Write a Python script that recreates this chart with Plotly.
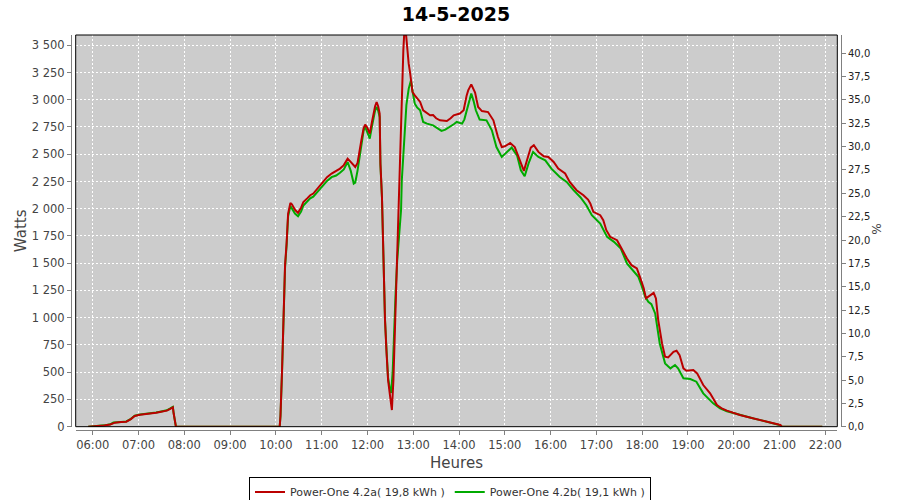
import plotly.graph_objects as go

DAY = "2025-05-14"

red_times = ["05:54","06:05","06:15","06:23","06:29","06:37","06:44","06:50","06:55","07:02","07:10","07:17","07:23","07:28","07:33","07:37","07:41","07:45","07:46","07:48","07:49",
             "10:05","10:06","10:08","10:10","10:12","10:14","10:16","10:19","10:21","10:25","10:29","10:33","10:36","10:41","10:45","10:49","10:55",
             "11:01","11:07","11:13","11:19","11:24","11:29","11:34","11:38","11:44","11:47","11:49","11:52","11:55","11:57",
             "12:00","12:03","12:06","12:08","12:10","12:12","12:14","12:16","12:17","12:19","12:20","12:21","12:23","12:25","12:27","12:30","12:32",
             "12:34","12:36","12:38","12:40","12:43","12:45","12:47","12:49","12:51","12:54","12:56","12:59",
             "13:02","13:05","13:09","13:13","13:18","13:22","13:26","13:30","13:35","13:44","13:49","13:53",
             "14:01","14:06","14:10","14:12","14:16","14:21","14:25","14:30","14:38","14:45","14:51","14:56",
             "15:00","15:07","15:13","15:20","15:25","15:29","15:34","15:38","15:44","15:51","15:57",
             "16:04","16:10","16:19","16:25","16:34","16:43","16:49","16:52","16:56",
             "17:05","17:09","17:13","17:18","17:27","17:33","17:40","17:46","17:53","17:57",
             "18:02","18:05","18:10","18:15","18:18","18:21","18:26","18:30","18:34","18:41","18:45","18:49","18:54","18:58",
             "19:07","19:12","19:20","19:29","19:38","19:45","19:51",
             "20:00","20:08","20:17","20:26","20:35","20:43","20:52","21:01","21:03","21:56"]
red_watts = [0,5,10,20,37,42,46,70,98,110,115,123,128,135,140,147,162,178,123,43,0,
             0,100,504,978,1482,1681,1956,2053,2040,1990,1962,2010,2062,2095,2124,2139,2190,
             2240,2290,2323,2345,2368,2400,2460,2430,2383,2420,2490,2628,2740,2772,
             2740,2689,2800,2873,2940,2979,2940,2873,2414,2108,1803,1345,978,676,428,260,153,
             428,887,1345,1880,2414,3025,3453,3720,3545,3331,3239,3071,
             3040,3010,2980,2903,2873,2857,2860,2830,2811,2805,2830,2857,
             2873,2903,3040,3086,3141,3065,2933,2896,2887,2811,2658,2566,
             2573,2603,2566,2444,2347,2444,2561,2582,2521,2481,2475,
             2429,2368,2323,2246,2170,2124,2084,2048,1971,
             1941,1895,1803,1742,1711,1635,1543,1482,1452,1375,
             1269,1177,1207,1228,1177,978,764,642,636,687,697,657,535,513,
             520,489,382,306,199,165,147,
             125,107,92,77,62,46,31,16,0,0]

green_times = ["05:54","06:05","06:15","06:23","06:27","06:37","06:44","06:50","06:55","07:02","07:10","07:17","07:23","07:28","07:33","07:37","07:41","07:45","07:46","07:48","07:49",
               "10:05","10:06","10:08","10:10","10:12","10:14","10:16","10:19","10:21","10:25","10:29","10:33","10:36","10:41","10:45","10:49","10:55",
               "11:01","11:07","11:13","11:19","11:24","11:29","11:34","11:38","11:42","11:44","11:47","11:49","11:52","11:55","11:57",
               "12:00","12:03","12:06","12:08","12:10","12:12","12:14","12:16","12:17","12:19","12:20","12:21","12:23","12:25","12:27","12:29","12:31",
               "12:33","12:35","12:37","12:39","12:42","12:44","12:45","12:47","12:49","12:51","12:54","12:57","12:59",
               "13:02","13:05","13:09","13:13","13:18","13:26","13:31","13:37","13:42","13:48","13:53","13:57",
               "14:01","14:04","14:07","14:10","14:13","14:16","14:19","14:22","14:27","14:36","14:43","14:49","14:56",
               "15:03","15:09","15:16","15:21","15:26","15:31","15:37","15:44","15:53",
               "16:01","16:12","16:21","16:30","16:39","16:47","16:54",
               "17:05","17:14","17:23","17:32","17:40","17:48","17:55","17:59",
               "18:04","18:08","18:12","18:17","18:20","18:23","18:30","18:37","18:43","18:47","18:54",
               "19:03","19:11","19:20","19:33","19:42","19:51",
               "20:00","20:08","20:17","20:26","20:35","20:43","20:52","21:01","21:03","21:56"]
green_watts = [0,5,12,22,38,44,48,72,100,112,117,124,130,137,142,150,165,182,125,45,0,
               0,95,490,960,1460,1660,1930,2025,2005,1955,1931,1975,2030,2065,2095,2110,2160,
               2210,2255,2290,2305,2330,2360,2429,2350,2231,2240,2350,2440,2580,2720,2750,
               2700,2643,2760,2830,2900,2934,2900,2840,2400,2100,1800,1345,978,700,450,360,309,
               500,948,1250,1528,1800,1986,2261,2500,2750,2950,3100,3178,3080,
               2964,2930,2903,2796,2781,2765,2740,2714,2725,2750,2775,2796,
               2790,2781,2820,2903,2990,3056,2990,2903,2818,2811,2720,2566,2475,
               2521,2561,2490,2353,2298,2414,2521,2475,2444,
               2368,2291,2246,2170,2105,2030,1941,
               1864,1742,1696,1635,1498,1436,1375,1299,
               1192,1146,1125,1039,917,764,581,535,566,535,444,
               437,413,306,214,169,142,
               124,106,91,75,60,44,29,14,0,0]

series_names = ["Power-One 4.2a( 19,8 kWh )", "Power-One 4.2b( 19,1 kWh )"]
series_colors = ["#bb0000", "#00aa00"]

# watts corresponding to 100 % on the right-hand axis
PEAK_W = 8565
WATTS_MAX = 3594

hour_ticks = ["%02d:00" % h for h in range(6, 23)]

def ts(t):
    return f"{DAY} {t}"

fig = go.Figure()
fig.add_trace(go.Scatter(x=[ts(t) for t in green_times], y=green_watts, mode="lines",
                         name=series_names[1], legendrank=2,
                         line=dict(color=series_colors[1], width=2)))
fig.add_trace(go.Scatter(x=[ts(t) for t in red_times], y=red_watts, mode="lines",
                         name=series_names[0], legendrank=1,
                         line=dict(color=series_colors[0], width=2)))
# same series expressed in % of peak power, on the right axis (invisible, drives the % axis)
fig.add_trace(go.Scatter(x=[ts(t) for t in red_times], y=[w / PEAK_W * 100 for w in red_watts],
                         mode="lines", yaxis="y2", showlegend=False, hoverinfo="skip",
                         opacity=0, line=dict(color=series_colors[0], width=0)))

tickfont = dict(family="DejaVu Sans", size=11.5, color="#444444")
grid = dict(showgrid=True, gridcolor="white", griddash="2px,2px", gridwidth=1)

fig.update_layout(
    width=900, height=500,
    paper_bgcolor="white", plot_bgcolor="#cccccc",
    separators=", ",
    margin=dict(l=71, r=59, t=35, b=70, autoexpand=False),
    title=dict(text="<b>14-5-2025</b>", x=0.5, xanchor="center", xref="paper",
               y=0.972, yanchor="middle", yref="container", automargin=False,
               font=dict(family="DejaVu Sans", size=19, color="black")),
    xaxis=dict(type="date", domain=[0.0061, 0.9952], anchor="free", position=0,
               automargin=False,
               range=[ts("05:37:40"), ts("22:15:40")],
               tickvals=[ts(t) for t in hour_ticks], ticktext=hour_ticks,
               showline=True, linecolor="#808080", linewidth=1,
               ticks="outside", ticklen=4, tickcolor="#808080",
               tickfont=tickfont, zeroline=False,
               title=dict(text="Heures", font=dict(family="DejaVu Sans", size=15, color="#444444"), standoff=6),
               **grid),
    yaxis=dict(domain=[0.0084, 1], anchor="free", position=0, automargin=False,
               range=[0, WATTS_MAX], tickmode="linear", tick0=0, dtick=250, tickformat=",d",
               showline=True, linecolor="#808080", linewidth=1,
               ticks="outside", ticklen=4, tickcolor="#808080",
               tickfont=tickfont, zeroline=False,
               title=dict(text="Watts", font=dict(family="DejaVu Sans", size=15, color="#444444"), standoff=0),
               **grid),
    yaxis2=dict(overlaying="y", side="right", anchor="free", position=1, automargin=False,
                range=[0, WATTS_MAX / PEAK_W * 100], tickmode="linear", tick0=0, dtick=2.5, tickformat=".1f",
                showline=True, linecolor="#808080", linewidth=1,
                ticks="outside", ticklen=4, tickcolor="#808080",
                tickfont=dict(family="DejaVu Sans", size=10, color="#222222"),
                showgrid=False, zeroline=False),
    legend=dict(orientation="h", x=0.5, xanchor="center", xref="container",
                y=0.047, yanchor="top", yref="container",
                bordercolor="black", borderwidth=1, bgcolor="white",
                font=dict(family="DejaVu Sans", size=11, color="#333333"),
                itemwidth=30, tracegroupgap=0),
    showlegend=True,
)

# right axis title
fig.add_annotation(text="%", xref="paper", yref="paper", x=1.0, xshift=44, y=0.511,
                   showarrow=False, textangle=90,
                   font=dict(family="DejaVu Sans", size=12, color="#444444"))

# black plot border
fig.add_shape(type="rect", xref="x domain", yref="y domain", x0=0, x1=1, y0=0, y1=1,
              line=dict(color="black", width=1), layer="above")

fig.write_html("out.html", config={"displayModeBar": False},
               post_script="document.body.style.margin='0px';")
